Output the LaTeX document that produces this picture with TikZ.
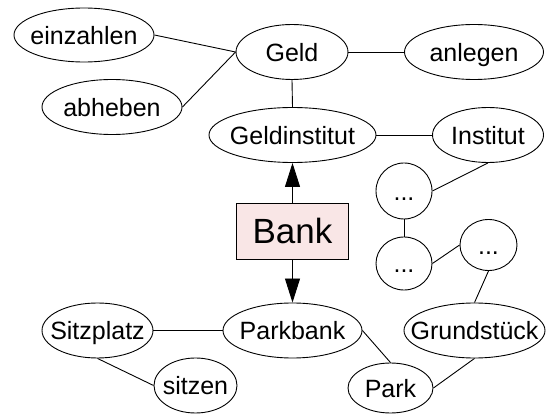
\documentclass[tikz,border=0pt]{standalone}
\usepackage{fontspec}
\setmainfont{Liberation Sans}
\usetikzlibrary{shapes.geometric,arrows.meta}
\definecolor{bankfill}{HTML}{F9E6E6}
% label of zero width with a full-line strut, so the ellipse keeps its
% given size and every label sits on the same baseline offset
\newcommand{\lbl}[1]{\makebox[0pt]{\rule[-0.2em]{0pt}{1.15em}#1}}
\begin{document}
\begin{tikzpicture}[x=1pt,y=-1pt,
  concept/.style={ellipse,draw,line width=0.9pt,inner sep=0pt,
    font=\fontsize{25}{30}\selectfont},
  link/.style={line width=0.9pt},
  arr/.style={line width=0.9pt,-{Triangle[width=15pt,length=24pt]}}]
\useasboundingbox (0,0) rectangle (555,414);
% upper branch: money
\node[concept,minimum width=140pt,minimum height=54pt] (einzahlen) at (84,35) {\lbl{einzahlen}};
\node[concept,minimum width=140pt,minimum height=55pt] (abheben) at (112,107) {\lbl{abheben}};
\node[concept,minimum width=112pt,minimum height=55pt] (geld) at (292,52) {\lbl{Geld}};
\node[concept,minimum width=139pt,minimum height=55pt] (anlegen) at (474,52) {\lbl{anlegen}};
\node[concept,minimum width=167pt,minimum height=55pt] (geldinst) at (292.5,135) {\lbl{Geldinstitut}};
\node[concept,minimum width=111pt,minimum height=55pt] (institut) at (488,135) {\lbl{Institut}};
% unnamed intermediate concepts
\node[concept,minimum width=56pt,minimum height=56pt] (d1) at (404,191) {\lbl{...}};
\node[concept,minimum width=56pt,minimum height=53pt] (d2) at (404,263.5) {\lbl{...}};
\node[concept,minimum width=57pt,minimum height=51pt] (d3) at (488.5,245) {\lbl{...}};
% the word itself
\node[draw,fill=bankfill,line width=0.9pt,minimum width=112pt,minimum height=56pt,
  inner sep=0pt,font=\fontsize{35}{42}\selectfont] (bank) at (292.5,231) {Bank};
% lower branch: bench
\node[concept,minimum width=111pt,minimum height=55pt] (sitzplatz) at (97.5,330.5) {\lbl{Sitzplatz}};
\node[concept,minimum width=83pt,minimum height=55pt] (sitzen) at (195.5,385.5) {\lbl{sitzen}};
\node[concept,minimum width=139pt,minimum height=55pt] (parkbank) at (292.5,330.5) {\lbl{Parkbank}};
\node[concept,minimum width=85pt,minimum height=50pt] (park) at (390.5,388) {\lbl{Park}};
\node[concept,minimum width=141pt,minimum height=55pt] (grund) at (474.5,330.5) {\lbl{Grundstück}};
% connections
\draw[link] (einzahlen.east) -- (geld.west);
\draw[link] (abheben.east) -- (geld.west);
\draw[link] (geld.east) -- (anlegen.west);
\draw[link] (geld.south) -- (geldinst.north);
\draw[link] (geldinst.east) -- (institut.west);
\draw[link] (institut.south) -- (d1.east);
\draw[link] (d1.south) -- (d2.north);
\draw[link] (d2.east) -- (d3.west);
\draw[link] (d3.south) -- (grund.north);
\draw[link] (grund.south) -- (park.east);
\draw[link] (parkbank.east) -- (park.north);
\draw[link] (sitzplatz.east) -- (parkbank.west);
\draw[link] (sitzplatz.south) -- (sitzen.west);
\draw[arr] (bank.north) -- (geldinst.south);
\draw[arr] (bank.south) -- (parkbank.north);
\end{tikzpicture}
\end{document}
